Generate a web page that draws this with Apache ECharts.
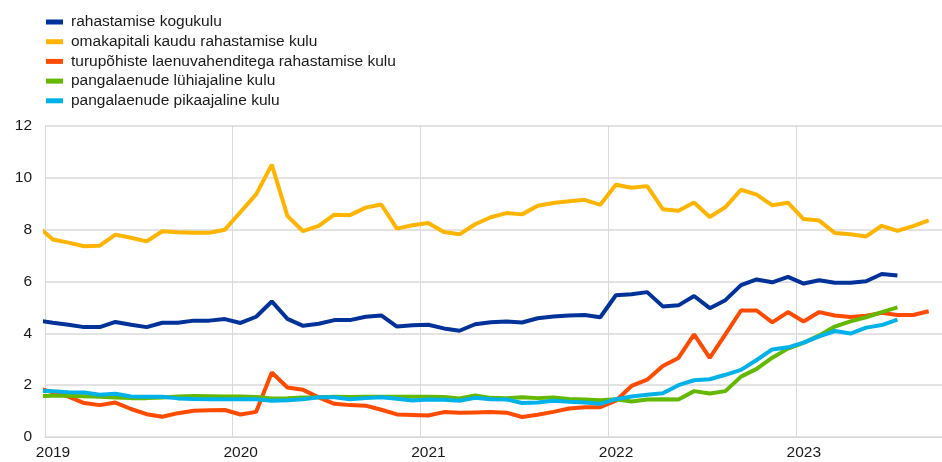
<!DOCTYPE html>
<html>
<head>
<meta charset="utf-8">
<script src="https://cdn.jsdelivr.net/npm/echarts@6/dist/echarts.min.js"></script>
<style>
  html, body { margin: 0; padding: 0; background: #fff; }
  #chart { width: 942px; height: 462px; }
</style>
</head>
<body>
<div id="chart"></div>
<script>
// monthly observations, Dec 2018 .. Sep 2023
const months = [
  '2018-12',
  '2019-01','2019-02','2019-03','2019-04','2019-05','2019-06','2019-07','2019-08','2019-09','2019-10','2019-11','2019-12',
  '2020-01','2020-02','2020-03','2020-04','2020-05','2020-06','2020-07','2020-08','2020-09','2020-10','2020-11','2020-12',
  '2021-01','2021-02','2021-03','2021-04','2021-05','2021-06','2021-07','2021-08','2021-09','2021-10','2021-11','2021-12',
  '2022-01','2022-02','2022-03','2022-04','2022-05','2022-06','2022-07','2022-08','2022-09','2022-10','2022-11','2022-12',
  '2023-01','2023-02','2023-03','2023-04','2023-05','2023-06','2023-07','2023-08','2023-09'
];

const seriesNames = [
  'rahastamise kogukulu',
  'omakapitali kaudu rahastamise kulu',
  'turupõhiste laenuvahenditega rahastamise kulu',
  'pangalaenude lühiajaline kulu',
  'pangalaenude pikaajaline kulu'
];

const totalCost = [4.5,
  4.41, 4.33, 4.24, 4.24, 4.44, 4.33, 4.24, 4.41, 4.41, 4.49, 4.49, 4.55,
  4.40, 4.64, 5.23, 4.56, 4.29, 4.37, 4.51, 4.51, 4.64, 4.69, 4.26, 4.31,
  4.33, 4.19, 4.10, 4.35, 4.43, 4.46, 4.42, 4.58, 4.65, 4.69, 4.71, 4.62,
  5.47, 5.51, 5.59, 5.04, 5.08, 5.44, 4.97, 5.28, 5.86, 6.08, 5.97, 6.18,
  5.92, 6.05, 5.95, 5.95, 6.01, 6.29, 6.23, null, null];

const equityCost = [8.15,
  7.62, 7.50, 7.36, 7.38, 7.81, 7.69, 7.55, 7.94, 7.90, 7.88, 7.88, 8.00,
  8.68, 9.36, 10.51, 8.53, 7.94, 8.15, 8.58, 8.56, 8.85, 8.97, 8.04, 8.17,
  8.26, 7.91, 7.82, 8.21, 8.48, 8.64, 8.59, 8.92, 9.03, 9.10, 9.15, 8.96,
  9.73, 9.62, 9.68, 8.79, 8.73, 9.05, 8.49, 8.87, 9.54, 9.35, 8.94, 9.04,
  8.41, 8.35, 7.87, 7.82, 7.74, 8.15, 7.95, 8.14, 8.36];

const debtCost = [1.9,
  1.72, 1.56, 1.31, 1.23, 1.33, 1.08, 0.88, 0.78, 0.92, 1.01, 1.03, 1.04,
  0.87, 0.97, 2.49, 1.91, 1.82, 1.53, 1.28, 1.23, 1.21, 1.05, 0.87, 0.85,
  0.83, 0.96, 0.94, 0.95, 0.96, 0.94, 0.77, 0.86, 0.97, 1.10, 1.15, 1.15,
  1.40, 1.97, 2.21, 2.74, 3.05, 3.96, 3.05, 3.96, 4.88, 4.88, 4.42, 4.82,
  4.46, 4.82, 4.69, 4.63, 4.68, 4.79, 4.71, 4.71, 4.85];

const shortLoans = [1.58,
  1.59, 1.59, 1.57, 1.55, 1.52, 1.50, 1.50, 1.52, 1.56, 1.58, 1.57, 1.56,
  1.56, 1.54, 1.49, 1.50, 1.52, 1.53, 1.55, 1.54, 1.55, 1.55, 1.55, 1.55,
  1.55, 1.54, 1.49, 1.60, 1.51, 1.50, 1.53, 1.50, 1.52, 1.47, 1.45, 1.42,
  1.46, 1.37, 1.45, 1.46, 1.45, 1.77, 1.68, 1.77, 2.33, 2.63, 3.06, 3.41,
  3.63, 3.92, 4.26, 4.46, 4.62, 4.82, 5.00, null, null];

const longLoans = [1.78,
  1.77, 1.73, 1.72, 1.63, 1.67, 1.56, 1.55, 1.55, 1.49, 1.47, 1.46, 1.46,
  1.46, 1.46, 1.40, 1.42, 1.46, 1.53, 1.53, 1.46, 1.50, 1.53, 1.48, 1.41,
  1.45, 1.44, 1.40, 1.51, 1.46, 1.45, 1.31, 1.33, 1.40, 1.36, 1.33, 1.28,
  1.46, 1.56, 1.63, 1.69, 2.00, 2.19, 2.23, 2.40, 2.59, 2.97, 3.38, 3.46,
  3.64, 3.88, 4.09, 3.99, 4.22, 4.32, 4.53, null, null];

const colors = ['#003299', '#FFB400', '#FF4B00', '#65B800', '#00B1EA'];

// month string -> position in months since Jan 2019 (mid-month)
function monthPos(m) {
  const [y, mo] = m.split('-').map(Number);
  return (y - 2019) * 12 + (mo - 1) + 0.5;
}

function toPairs(values) {
  return values.map((v, i) => [monthPos(months[i]), v]);
}

const chart = echarts.init(document.getElementById('chart'));
const fontFamily = 'Arial, "Liberation Sans", sans-serif';

const allSeries = [totalCost, equityCost, debtCost, shortLoans, longLoans];

chart.setOption({
  animation: false,
  color: colors,
  textStyle: { fontFamily: fontFamily },
  grid: { left: 45, right: 0, top: 126, bottom: 25 },
  legend: {
    orient: 'vertical',
    left: 41,
    top: 9,
    icon: 'rect',
    itemWidth: 17,
    itemHeight: 5,
    itemGap: 3.7,
    textStyle: {
      fontSize: 15.5,
      color: '#1a1a1a',
      lineHeight: 15.5,
      padding: [0, 0, 0, 3]
    },
    data: seriesNames
  },
  xAxis: {
    type: 'value',
    min: 0,
    max: 57.35,
    interval: 12,
    axisLine: { show: true, lineStyle: { color: '#d9d9d9', width: 1 } },
    axisTick: { show: false },
    axisLabel: {
      showMaxLabel: false,
      fontSize: 15.5,
      color: '#1a1a1a',
      margin: 8,
      padding: [0, 0, 0, 16],
      formatter: v => String(2019 + Math.round(v / 12))
    },
    splitLine: { show: true, lineStyle: { color: '#d9d9d9', width: 1 } }
  },
  yAxis: {
    type: 'value',
    min: 0,
    max: 12,
    interval: 2,
    axisLine: { show: true, lineStyle: { color: '#d9d9d9', width: 1 } },
    axisTick: { show: false },
    axisLabel: { fontSize: 15.5, color: '#1a1a1a', margin: 13 },
    splitLine: { show: true, lineStyle: { color: '#e3e3e3', width: 2 } }
  },
  series: seriesNames.map((name, k) => ({
    name: name,
    type: 'line',
    data: toPairs(allSeries[k]),
    showSymbol: false,
    symbol: 'none',
    clip: true,
    lineStyle: { width: 4, color: colors[k] },
    itemStyle: { color: colors[k] }
  }))
});
</script>
</body>
</html>
